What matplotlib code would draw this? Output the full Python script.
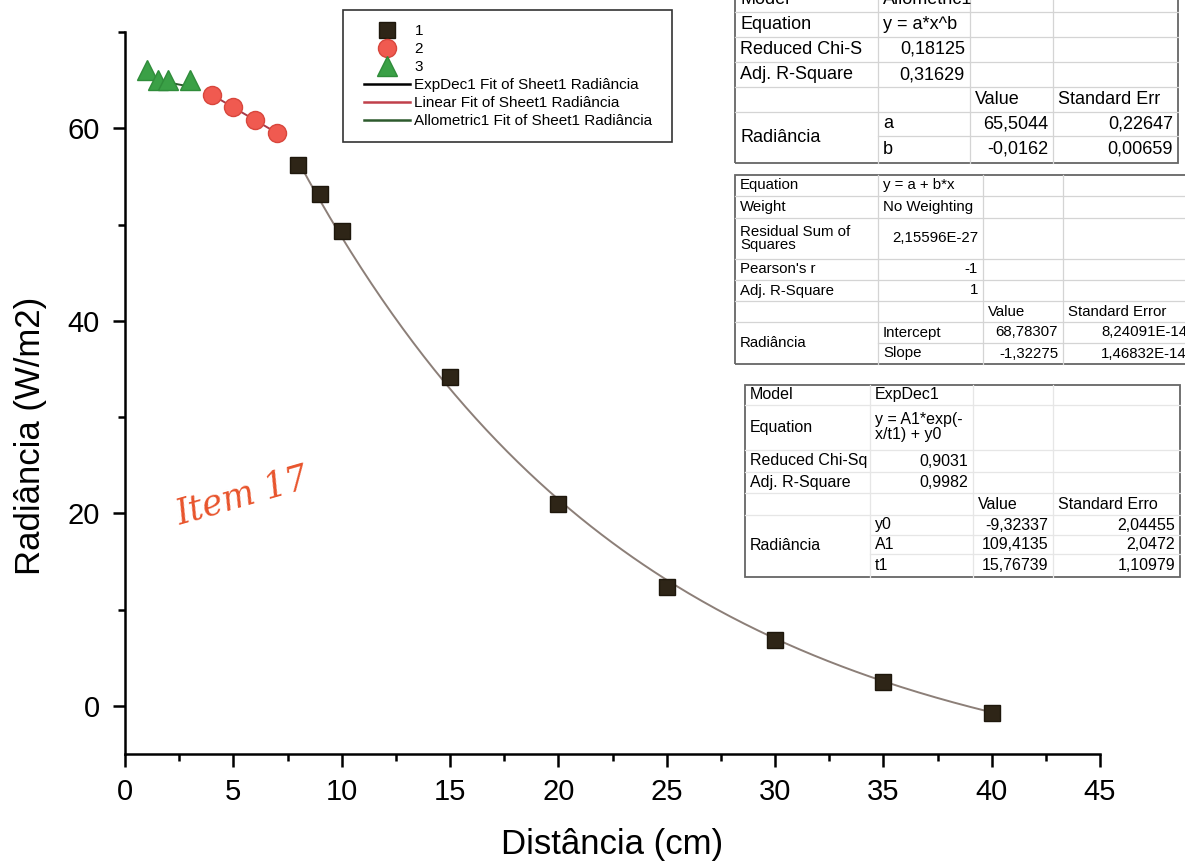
import numpy as np
import matplotlib
matplotlib.use('Agg')
import matplotlib.pyplot as plt
from matplotlib.lines import Line2D
from matplotlib.patches import Rectangle
from matplotlib.ticker import MultipleLocator

plt.rcParams['font.family'] = ['Liberation Sans', 'DejaVu Sans']

# series
x1 = [8, 9, 10, 15, 20, 25, 30, 35, 40]
y1 = [56.2, 53.2, 49.3, 34.2, 21.0, 12.3, 6.8, 2.5, -0.7]
x2 = [4, 5, 6, 7]
y2 = [63.49, 62.17, 60.85, 59.53]
x3 = [1, 1.5, 2, 3]
y3 = [66.1, 65.0, 65.0, 65.0]

# fit parameters as printed in the tables
exp_y0, exp_A1, exp_t1 = -9.32337, 109.4135, 15.76739
lin_a, lin_b = 68.78307, -1.32275
allo_a, allo_b = 65.5044, -0.0162

W, H = 1185, 865
fig = plt.figure(figsize=(W/100, H/100), dpi=100)
ax = fig.add_axes([125/W, 1-754/H, (1100-125)/W, (754-32)/H])

xf1 = np.linspace(min(x1), max(x1), 200)
ax.plot(xf1, exp_A1*np.exp(-xf1/exp_t1)+exp_y0, color='#8c7f78', lw=1.4, zorder=2)
xf2 = np.linspace(min(x2), max(x2), 50)
ax.plot(xf2, lin_a+lin_b*xf2, color='#a83a48', lw=1.4, zorder=2)
xf3 = np.linspace(min(x3), max(x3), 50)
ax.plot(xf3, allo_a*xf3**allo_b, color='#2d5a2d', lw=1.4, zorder=2)

ax.plot(x1, y1, 's', ms=12, mfc='#2e2517', mec='#1e170c', zorder=3)
ax.plot(x2, y2, 'o', ms=13, mfc='#f05a50', mec='#d8463c', zorder=3)
ax.plot(x3, y3, '^', ms=15, mfc='#3aa046', mec='#2f8c3a', zorder=3)

ax.set_xlim(0, 45)
ax.set_ylim(-5, 70)
ax.xaxis.set_major_locator(MultipleLocator(5))
ax.xaxis.set_minor_locator(MultipleLocator(2.5))
ax.yaxis.set_minor_locator(MultipleLocator(10))
ax.set_yticks([0, 20, 40, 60])
for s in ['top', 'right']:
    ax.spines[s].set_visible(False)
for s in ['left', 'bottom']:
    ax.spines[s].set_linewidth(1.8)
ax.tick_params(which='major', direction='out', length=9, width=1.8, labelsize=21)
ax.tick_params(axis='y', which='major', pad=9)
ax.tick_params(axis='x', which='major', pad=8)
ax.tick_params(which='minor', direction='out', length=5, width=1.8)
ax.set_xlabel('Distância (cm)', fontsize=25, labelpad=16)
ax.set_ylabel('Radiância (W/m2)', fontsize=25)
ax.yaxis.set_label_coords(-0.08, 0.44)

ax.text(5.4, 21.8, 'Item 17', color='#e8542c', fontsize=25, style='italic',
        family='DejaVu Serif', rotation=16, ha='center', va='center')

# legend
fig.patches.append(Rectangle((343/W, 1-142/H), (672-343)/W, (142-10)/H,
                             transform=fig.transFigure, fill=False, ec='#333333', lw=1.2))
handles = [Line2D([], [], ls='', marker='s', ms=12, mfc='#2e2517', mec='#1e170c'),
           Line2D([], [], ls='', marker='o', ms=13, mfc='#f05a50', mec='#d8463c'),
           Line2D([], [], ls='', marker='^', ms=14, mfc='#3aa046', mec='#2f8c3a'),
           Line2D([], [], color='black', lw=1.8),
           Line2D([], [], color='#c0404a', lw=1.8),
           Line2D([], [], color='#2d5a2d', lw=1.8)]
labels = ['1', '2', '3', 'ExpDec1 Fit of Sheet1 Radiância',
          'Linear Fit of Sheet1 Radiância', 'Allometric1 Fit of Sheet1 Radiância']
ax.legend(handles, labels, loc='upper left', bbox_to_anchor=(364/W, 1-24/H),
          bbox_transform=fig.transFigure, frameon=False, fontsize=11,
          labelspacing=0.26, handlelength=3.0, handletextpad=0.3,
          borderpad=0, borderaxespad=0)


def draw_table(cols, rows, cells, fs, merged=(), inner='#d4d4d4', outer='#666666'):
    # cols / rows: pixel boundaries; cells: (row0, row1, col, text, align)
    fx = lambda p: p/W
    fy = lambda p: 1-p/H
    for i, yb in enumerate(rows[1:-1], start=1):
        for c in range(len(cols)-1):
            if (i, c) in merged:
                continue
            fig.add_artist(Line2D([fx(cols[c]), fx(cols[c+1])], [fy(yb), fy(yb)], color=inner, lw=0.9))
    for xc in cols[1:-1]:
        fig.add_artist(Line2D([fx(xc), fx(xc)], [fy(rows[0]), fy(rows[-1])], color=inner, lw=0.9))
    fig.patches.append(Rectangle((fx(cols[0]), fy(rows[-1])), (cols[-1]-cols[0])/W,
                                 (rows[-1]-rows[0])/H, transform=fig.transFigure,
                                 fill=False, ec=outer, lw=1.3))
    for r0, r1, c, text, al in cells:
        yc = (rows[r0]+rows[r1])/2
        xp = cols[c]+5 if al == 'left' else cols[c+1]-5
        fig.text(fx(xp), fy(yc), text, ha=al, va='center', fontsize=fs, linespacing=1.0)


# Allometric1 table (top row is cut by the page edge, as in the photo)
draw_table([735, 878, 970, 1053, 1178],
           [-13, 12, 37, 62, 87, 112, 136, 163],
           [(0, 1, 0, 'Model', 'left'), (0, 1, 1, 'Allometric1', 'left'),
            (1, 2, 0, 'Equation', 'left'), (1, 2, 1, 'y = a*x^b', 'left'),
            (2, 3, 0, 'Reduced Chi-S', 'left'), (2, 3, 1, '0,18125', 'right'),
            (3, 4, 0, 'Adj. R-Square', 'left'), (3, 4, 1, '0,31629', 'right'),
            (4, 5, 2, 'Value', 'left'), (4, 5, 3, 'Standard Err', 'left'),
            (5, 7, 0, 'Radiância', 'left'), (5, 6, 1, 'a', 'left'), (6, 7, 1, 'b', 'left'),
            (5, 6, 2, '65,5044', 'right'), (6, 7, 2, '-0,0162', 'right'),
            (5, 6, 3, '0,22647', 'right'), (6, 7, 3, '0,00659', 'right')],
           13, merged={(6, 0)})

# Linear fit table
draw_table([735, 878, 983, 1063, 1192],
           [175, 196, 218, 259, 280, 301, 322, 343, 364],
           [(0, 1, 0, 'Equation', 'left'), (0, 1, 1, 'y = a + b*x', 'left'),
            (1, 2, 0, 'Weight', 'left'), (1, 2, 1, 'No Weighting', 'left'),
            (2, 3, 0, 'Residual Sum of\nSquares', 'left'), (2, 3, 1, '2,15596E-27', 'right'),
            (3, 4, 0, "Pearson's r", 'left'), (3, 4, 1, '-1', 'right'),
            (4, 5, 0, 'Adj. R-Square', 'left'), (4, 5, 1, '1', 'right'),
            (5, 6, 2, 'Value', 'left'), (5, 6, 3, 'Standard Error', 'left'),
            (6, 8, 0, 'Radiância', 'left'), (6, 7, 1, 'Intercept', 'left'), (7, 8, 1, 'Slope', 'left'),
            (6, 7, 2, '68,78307', 'right'), (7, 8, 2, '-1,32275', 'right'),
            (6, 7, 3, '8,24091E-14', 'right'), (7, 8, 3, '1,46832E-14', 'right')],
           10.8, merged={(7, 0)})

# ExpDec1 table
draw_table([745, 870, 973, 1053, 1180],
           [385, 405, 450, 472, 493, 515, 535, 554, 577],
           [(0, 1, 0, 'Model', 'left'), (0, 1, 1, 'ExpDec1', 'left'),
            (1, 2, 0, 'Equation', 'left'), (1, 2, 1, 'y = A1*exp(-\nx/t1) + y0', 'left'),
            (2, 3, 0, 'Reduced Chi-Sq', 'left'), (2, 3, 1, '0,9031', 'right'),
            (3, 4, 0, 'Adj. R-Square', 'left'), (3, 4, 1, '0,9982', 'right'),
            (4, 5, 2, 'Value', 'left'), (4, 5, 3, 'Standard Erro', 'left'),
            (5, 8, 0, 'Radiância', 'left'),
            (5, 6, 1, 'y0', 'left'), (6, 7, 1, 'A1', 'left'), (7, 8, 1, 't1', 'left'),
            (5, 6, 2, '-9,32337', 'right'), (6, 7, 2, '109,4135', 'right'), (7, 8, 2, '15,76739', 'right'),
            (5, 6, 3, '2,04455', 'right'), (6, 7, 3, '2,0472', 'right'), (7, 8, 3, '1,10979', 'right')],
           11.5, merged={(6, 0), (7, 0)}, inner='#e6e6e6')

fig.savefig('out.png', dpi=100)
